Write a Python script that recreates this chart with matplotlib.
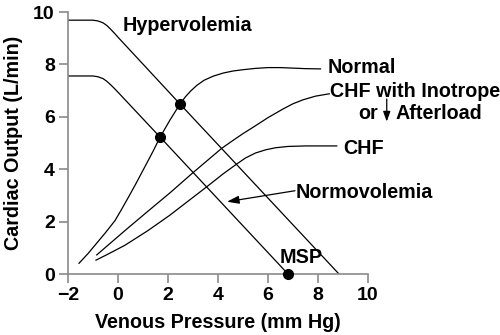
import matplotlib
matplotlib.use("Agg")
import matplotlib.pyplot as plt

plt.rcParams['font.family'] = ['Liberation Sans', 'DejaVu Sans']
plt.rcParams['font.weight'] = 'bold'

# venous return curves (flat plateau, then linear fall to the x axis)
hyper_x = [-2.0, -1.0, -0.8, -0.6, -0.45, -0.3, -0.15, 0.0, 2.48, 8.84]
hyper_y = [9.69, 9.69, 9.66, 9.59, 9.49, 9.35, 9.2, 9.04, 6.49, 0.0]
normo_x = [-2.0, -1.0, -0.8, -0.6, -0.45, -0.3, -0.15, 0.0, 1.68, 6.8]
normo_y = [7.56, 7.56, 7.53, 7.46, 7.36, 7.23, 7.09, 6.94, 5.23, 0.0]

# cardiac function curves
normal_x = [-1.56, -1.2, -0.92, -0.5, -0.12, 0.15, 0.41, 0.7, 0.95, 1.2, 1.41, 1.68, 2.08, 2.48,
            2.7, 2.9, 3.15, 3.45, 3.8, 4.2, 4.6, 5.0, 5.5, 6.0, 6.5, 7.0, 7.5, 8.1]
normal_y = [0.41, 0.78, 1.1, 1.58, 2.04, 2.48, 2.92, 3.42, 3.87, 4.32, 4.7, 5.22, 5.88, 6.49,
            6.77, 6.98, 7.2, 7.4, 7.55, 7.67, 7.75, 7.8, 7.85, 7.88, 7.88, 7.86, 7.84, 7.83]
inotrope_x = [-0.85, 0.28, 1.2, 2.08, 3.0, 4.15, 4.6, 5.0, 5.4, 6.0, 6.6, 7.0, 7.4, 7.9, 8.45]
inotrope_y = [0.73, 1.66, 2.4, 3.1, 3.87, 4.8, 5.1, 5.36, 5.6, 5.97, 6.3, 6.5, 6.65, 6.79, 6.88]
chf_x = [-0.88, -0.4, 0.28, 1.2, 2.08, 2.8, 3.55, 4.2, 4.75, 5.1, 5.5, 5.9, 6.3, 6.8, 7.5, 8.75]
chf_y = [0.53, 0.76, 1.1, 1.66, 2.25, 2.78, 3.33, 3.82, 4.2, 4.43, 4.62, 4.74, 4.82, 4.87, 4.89, 4.89]

# equilibrium points and mean systemic pressure
pts_x = [1.68, 2.48, 6.8]
pts_y = [5.23, 6.49, 0.0]

xticks = [-2, 0, 2, 4, 6, 8, 10]
yticks = [0, 2, 4, 6, 8, 10]

fig = plt.figure(figsize=(5.0, 3.35), dpi=100)
ax = fig.add_axes([0.136, 0.182, 0.6, 0.782])

lw = 0.9
for x, y in [(hyper_x, hyper_y), (normo_x, normo_y), (normal_x, normal_y),
             (inotrope_x, inotrope_y), (chf_x, chf_y)]:
    ax.plot(x, y, color='black', lw=lw, solid_joinstyle='round')
ax.plot(pts_x, pts_y, 'o', color='black', ms=7, clip_on=False, zorder=5)

ax.set_xlim(-2, 10)
ax.set_ylim(0, 10)
ax.set_xticks(xticks)
ax.set_yticks(yticks)
for s in ['top', 'right']:
    ax.spines[s].set_visible(False)
for s in ['left', 'bottom']:
    ax.spines[s].set_color('#8a8a8a')
    ax.spines[s].set_linewidth(1.2)
ax.tick_params(length=6.5, width=1.2, color='#8a8a8a', labelsize=14, pad=3)
for lab in ax.get_xticklabels() + ax.get_yticklabels():
    lab.set_fontweight('bold')

ax.set_xlabel('Venous Pressure (mm Hg)', fontsize=14.2, fontweight='bold', labelpad=6)
ax.set_ylabel('Cardiac Output (L/min)', fontsize=14.2, fontweight='bold', labelpad=7)

fs = 14.2
kw = dict(fontsize=fs, fontweight='bold', va='baseline', ha='left')
ax.text(0.2, 9.27, 'Hypervolemia', **kw)
ax.text(8.39, 7.67, 'Normal', **kw)
ax.text(8.48, 6.77, 'CHF with Inotrope', **kw)
ax.text(9.6, 5.92, 'or', **kw)
ax.text(11.1, 5.92, 'Afterload', **kw)
ax.annotate('', xy=(10.75, 5.82), xytext=(10.75, 6.68), annotation_clip=False,
            arrowprops=dict(arrowstyle='-|>,head_length=0.5,head_width=0.18', color='black',
                            lw=0.9, mutation_scale=12, shrinkA=0, shrinkB=0))
ax.text(8.99, 4.6, 'CHF', **kw)
ax.text(7.1, 2.89, 'Normovolemia', **kw)
ax.annotate('', xy=(4.36, 2.76), xytext=(7.08, 3.18),
            arrowprops=dict(arrowstyle='-|>,head_length=0.6,head_width=0.2', color='black',
                            lw=0.9, mutation_scale=12, shrinkA=0, shrinkB=0))
ax.text(6.45, 0.41, 'MSP', **kw)

fig.savefig('out.png', dpi=100)
